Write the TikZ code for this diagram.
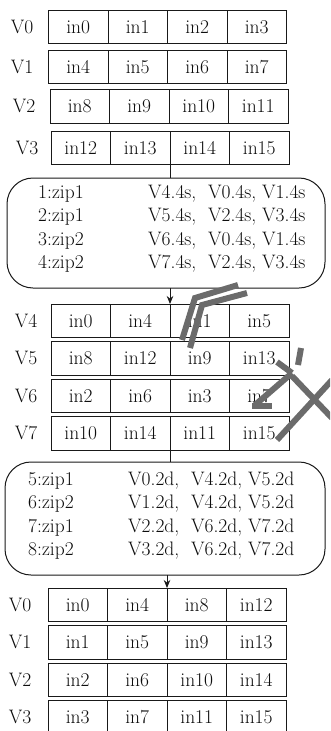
\documentclass[tikz,border=0pt]{standalone}
\usetikzlibrary{arrows.meta}
\begin{document}
\begin{tikzpicture}[x=1pt,y=-1pt,
  txt/.style={font=\fontsize{19.5}{23.6}\selectfont, text=black!95},
  cell/.style={txt, draw=black!90, line width=0.9pt, minimum width=59.5pt, minimum height=33.5pt, inner sep=0pt, outer sep=0pt, anchor=north west},
  lbl/.style={txt, inner sep=0pt},
  bigbox/.style={draw=black!90, line width=1pt, rounded corners=26pt, inner sep=0pt, outer sep=0pt},
  conn/.style={draw=black!90, line width=0.9pt},
  arr/.style={conn, -{Stealth[length=8pt,width=6.5pt]}},
  wm/.style={draw=black!58, line width=6pt}
]
\useasboundingbox (0,0) rectangle (330,731);
\clip (0,0) rectangle (330,731);
\newcommand\vrow[9]{%
  \node[lbl] (#1l) at (#4,#3+16.75) {#5};
  \node[cell] (#1a) at (#2,#3) {#6};
  \node[cell] (#1b) at (#1a.north east) {#7};
  \node[cell] (#1c) at (#1b.north east) {#8};
  \node[cell] (#1d) at (#1c.north east) {#9};
}
% top block
\vrow{ra}{48.5}{10}{22}{V0}{in0}{in1}{in2}{in3}
\vrow{rb}{48.5}{50}{22}{V1}{in4}{in5}{in6}{in7}
\vrow{rc}{50}{89.5}{24}{V2}{in8}{in9}{in10}{in11}
\vrow{rd}{51}{131}{27}{V3}{in12}{in13}{in14}{in15}
% first rounded box
\node[bigbox, minimum width=318pt, minimum height=110pt] (box1) at (166,233) {};
\node[txt, anchor=base west, inner sep=0pt] (t1) at (38,198) {\begin{tabular}[t]{@{}p{110pt}@{}l@{}}
1:zip1 & V4.4s,\ \ V0.4s, V1.4s\\
2:zip1 & V5.4s,\ \ V2.4s, V3.4s\\
3:zip2 & V6.4s,\ \ V0.4s, V1.4s\\
4:zip2 & V7.4s,\ \ V2.4s, V3.4s
\end{tabular}};
% middle block
\vrow{re}{51}{304}{26}{V4}{in0}{in4}{in1}{in5}
\vrow{rf}{51}{341.5}{26}{V5}{in8}{in12}{in9}{in13}
\vrow{rg}{51}{379}{26}{V6}{in2}{in6}{in3}{in7}
\vrow{rh}{51}{416.5}{26}{V7}{in10}{in14}{in11}{in15}
% second rounded box
\node[bigbox, minimum width=320pt, minimum height=113pt] (box2) at (165,518.5) {};
\node[txt, anchor=base west, inner sep=0pt] (t2) at (28,485) {\begin{tabular}[t]{@{}p{100pt}@{}l@{}}
5:zip1 & V0.2d,\ \ V4.2d, V5.2d\\
6:zip2 & V1.2d,\ \ V4.2d, V5.2d\\
7:zip1 & V2.2d,\ \ V6.2d, V7.2d\\
8:zip2 & V3.2d,\ \ V6.2d, V7.2d
\end{tabular}};
% bottom block
\vrow{ri}{48}{588}{20}{V0}{in0}{in4}{in8}{in12}
\vrow{rj}{48}{625.5}{20}{V1}{in1}{in5}{in9}{in13}
\vrow{rk}{48}{663}{20}{V2}{in2}{in6}{in10}{in14}
\vrow{rl}{48}{700.5}{20}{V3}{in3}{in7}{in11}{in15}
% connectors
\draw[conn] (rdc.south west) -- (rdc.south west |- box1.north);
\draw[arr] (box1.south -| rec.north west) -- (rec.north west);
\draw[conn] (rhc.south west) -- (rhc.south west |- box2.north);
\draw[arr] (box2.south -| ric.north west) -- (ric.north west);
% grey strokes over the middle block
\draw[wm] (182,340) -- (195,298) -- (238,285);
\draw[wm] (190,348) -- (202,305) -- (247,293);
\draw[wm] (301,348) -- (298,365);
\draw[wm] (277,362) -- (292,373);
\draw[wm] (292,373) -- (255,405);
\draw[wm] (252,406) -- (272,406);
\draw[wm] (292,376) -- (332,418);
\draw[wm] (277,440) -- (332,380);
\end{tikzpicture}
\end{document}
